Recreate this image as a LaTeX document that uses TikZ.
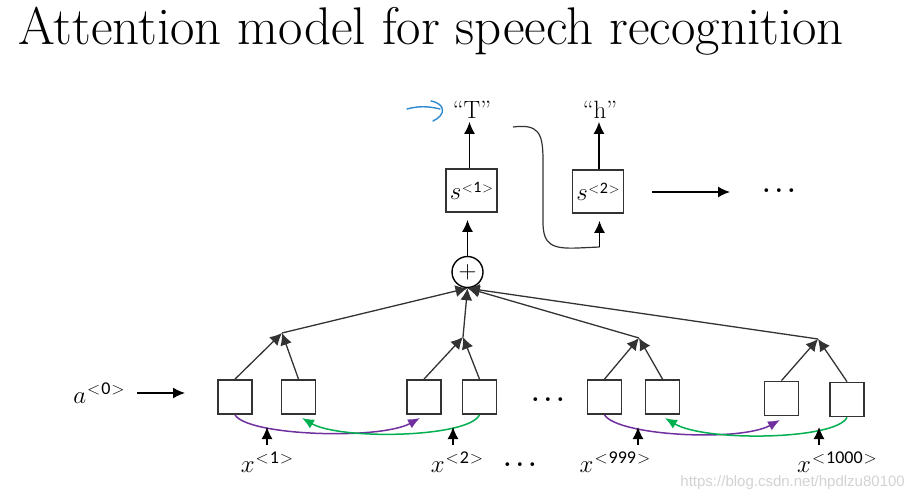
\documentclass[tikz,border=0pt]{standalone}
\usepackage{fontspec}
\newfontfamily\wmfont{Liberation Sans}
\newfontfamily\suplfont{Carlito}
\usetikzlibrary{arrows.meta}
\definecolor{mypurple}{HTML}{7030A0}
\definecolor{mygreen}{HTML}{00B050}
\definecolor{myblue}{HTML}{2E8BD0}
\definecolor{edge}{HTML}{333333}
\newcommand\varsup[3]{$#1$\kern1pt\raisebox{#3}{\fontsize{17}{20}\selectfont$<$\kern1pt{\suplfont\fontsize{18}{20}\selectfont#2}\kern1pt$>$}}
\newcommand\boxsup[2]{$#1$\kern0.5pt\raisebox{7pt}{\fontsize{15}{18}\selectfont$<$\kern0.5pt{\suplfont\fontsize{16}{18}\selectfont#2}\kern0.5pt$>$}}
\begin{document}
\begin{tikzpicture}[x=1pt,y=-1pt,
  cell/.style={draw=edge,line width=1.8pt,minimum width=34pt,minimum height=34pt,inner sep=0pt},
  sbox/.style={draw=edge,line width=1.8pt,minimum width=51pt,minimum height=43pt,inner sep=0pt},
  arr/.style={-{Latex[length=12pt,width=11pt]},line width=1.4pt,black},
  jarr/.style={-{Latex[length=12pt,width=12pt]},line width=1.3pt,edge},
  carr/.style={-{Latex[length=12pt,width=10pt]},line width=1.5pt},
  lbl/.style={inner sep=0pt,font=\fontsize{30}{34}\selectfont},
  qlbl/.style={inner sep=0pt,font=\fontsize{25}{30}\selectfont},
  dots/.style={inner sep=0pt,font=\fontsize{26}{30}\selectfont\bfseries}]
\useasboundingbox (0,0) rectangle (924,500);
% title
\node[anchor=base west,inner sep=0pt,font=\fontsize{53}{60}\selectfont] (title) at (18,45) {Attention model for speech recognition};
% top decoder
\node[qlbl] (T) at (472,110) {``T''};
\node[qlbl] (h) at (600,110) {``h''};
\node[sbox] (s1) at (471.5,190.5) {\fontsize{25}{30}\selectfont\boxsup{s}{1}};
\node[sbox] (s2) at (598,191.5) {\fontsize{25}{30}\selectfont\boxsup{s}{2}};
\node[draw=black,circle,line width=1.4pt,minimum size=31pt,inner sep=0pt,font=\fontsize{36}{38}\selectfont] (c) at (467.5,272) {$+$};
\draw[arr] (c.north) -- (c.north |- s1.south) [shorten >=7pt];
\draw[arr] (s1.north -| c.north) ++(2,0) coordinate (s1t) -- (s1t |- T.south) [shorten >=3pt];
\draw[arr] (s2.north) ++(1,0) coordinate (s2t) -- (s2t |- h.south) [shorten >=3pt];
\coordinate (cs) at (513,127);
\coordinate (cb) at (599.5,247);
\draw[line width=1.2pt,edge] (cs) .. controls (538,124) and (543,132) .. (543,160) -- (543,222) .. controls (543,245) and (552,249) .. (578,248) -- (cb);
\draw[arr] (cb) -- (cb |- s2.south) [shorten >=7pt];
\coordinate (ra) at (652,192);
\coordinate (rb) at (730,192);
\draw[arr] (ra) -- (rb);
\node[dots] (d1) at (779,191) {.\,.\,.};
% blue hook
\draw[myblue,line width=1.4pt,line cap=round] (407,109) .. controls (418,106) and (428,106) .. (440,109);
\draw[myblue,line width=1.4pt,line cap=round] (431,101) .. controls (446,104) and (446,115) .. (433,121);
% encoder cells
\node[cell] (b1) at (235,397) {};
\node[cell] (b2) at (298.5,397) {};
\node[cell] (b3) at (424,397) {};
\node[cell] (b4) at (479.5,397) {};
\node[cell] (b5) at (604.5,397) {};
\node[cell] (b6) at (662.5,397) {};
\node[cell] (b7) at (781.5,398.5) {};
\node[cell] (b8) at (847,399.5) {};
\coordinate (j1) at (282,333);
\coordinate (j2) at (463,337);
\coordinate (j3) at (639,338);
\coordinate (j4) at (818,339);
\foreach \a/\j in {b1/j1,b2/j1,b3/j2,b4/j2,b5/j3,b6/j3,b7/j4,b8/j4}
  \draw[jarr] (\a.north) -- (\j);
\foreach \j in {j1,j2,j3,j4}
  \draw[jarr] (\j) -- (c.south);
% a0
\node[lbl] (a0) at (99,393) {\varsup{a}{0}{9pt}};
\coordinate (aend) at (185,393);
\draw[arr] (137,393) coordinate (astart) -- (aend);
% bidirectional curves
\draw[carr,mypurple] (b1.south) .. controls (248,436) and (380,440) .. (420,418);
\draw[carr,mygreen] (b4.south) .. controls (468,438) and (340,440) .. (302,418);
\draw[carr,mypurple] (b5.south) .. controls (618,436) and (740,442) .. (780,420);
\draw[carr,mygreen] (b8.south) .. controls (836,440) and (705,442) .. (665,418);
% inputs
\node[lbl] (x1) at (267,462) {\varsup{x}{1}{9pt}};
\node[lbl] (x2) at (457,462) {\varsup{x}{2}{9pt}};
\node[lbl] (x999) at (615,462) {\varsup{x}{999}{9pt}};
\node[lbl] (x1000) at (837,462) {\varsup{x}{1000}{9pt}};
\foreach \n/\xx in {x1/267,x2/453,x999/638,x1000/819}{
  \coordinate (\n a) at (\xx,445);
  \draw[arr] (\n a) -- ++(0,-18);
}
\node[dots] (d2) at (548,400) {.\,.\,.};
\node[dots] (d3) at (520,465) {.\,.\,.};
% watermark
\node[anchor=east,inner sep=0pt,text=gray!35,font=\wmfont\fontsize{15}{18}\selectfont] (wm) at (905,483) {https://blog.csdn.net/hpdlzu80100};
\end{tikzpicture}
\end{document}
